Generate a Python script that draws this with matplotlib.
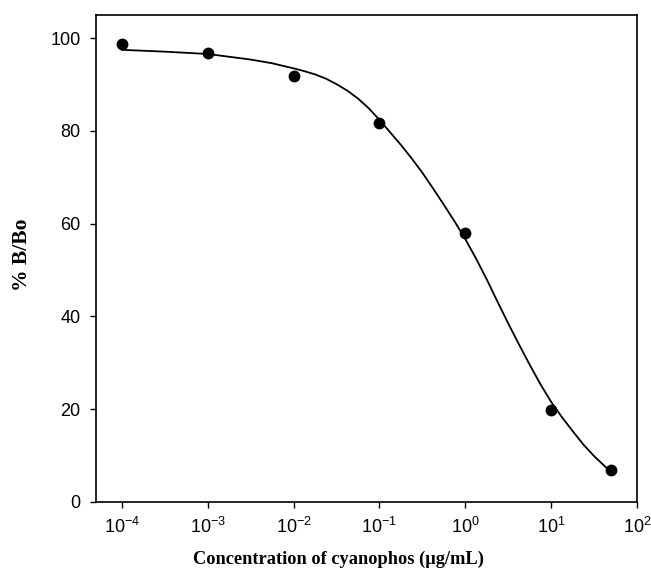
import matplotlib
matplotlib.use("Agg")
import matplotlib.pyplot as plt
import numpy as np
from matplotlib.ticker import NullLocator

plt.rcParams['font.family'] = 'Liberation Sans'
plt.rcParams['mathtext.fontset'] = 'custom'
plt.rcParams['mathtext.rm'] = 'Liberation Sans'
plt.rcParams['axes.unicode_minus'] = False

# measured points (concentration in ug/mL, % B/Bo)
conc = [1e-4, 1e-3, 1e-2, 1e-1, 1e0, 1e1, 50]
bbo = [98.8, 96.8, 91.8, 81.7, 57.9, 19.9, 6.8]

# fitted curve (log10 of concentration, % B/Bo)
curve_logc = [-4.0, -3.5, -3.0, -2.5, -2.25, -2.0, -1.875, -1.75, -1.625,
              -1.5, -1.375, -1.25, -1.125, -1.0, -0.875, -0.75, -0.625,
              -0.5, -0.375, -0.25, -0.125, 0.0, 0.125, 0.25, 0.375, 0.5,
              0.625, 0.75, 0.875, 1.0, 1.125, 1.25, 1.375, 1.5, 1.625, 1.69]
curve_bbo = [97.5, 97.1, 96.6, 95.4, 94.6, 93.5, 92.9, 92.2, 91.3,
             90.1, 88.7, 87.0, 84.9, 82.4, 79.7, 77.0, 74.1,
             71.0, 67.6, 64.1, 60.5, 56.7, 52.5, 48.0, 43.2, 38.5,
             34.0, 29.6, 25.4, 21.6, 18.3, 15.3, 12.4, 9.9, 7.7, 6.7]

x_ticks = [1e-4, 1e-3, 1e-2, 1e-1, 1e0, 1e1, 1e2]
y_ticks = [0, 20, 40, 60, 80, 100]

fig = plt.figure(figsize=(6.51, 5.78), dpi=100)
ax = fig.add_axes([0.1475, 0.1315, 0.831, 0.8425])

ax.plot(np.power(10.0, curve_logc), curve_bbo, color='black', lw=1.3, zorder=2)
ax.plot(conc, bbo, 'o', color='black', ms=7.5, zorder=3)

ax.set_xscale('log')
ax.set_xlim(5e-5, 1e2)
ax.set_ylim(0, 105)
ax.set_xticks(x_ticks)
ax.set_yticks(y_ticks)
ax.xaxis.set_minor_locator(NullLocator())

for s in ax.spines.values():
    s.set_linewidth(1.2)

ax.tick_params(direction='out', length=4, width=1, pad=7, labelsize=13)

ax.set_xlabel('Concentration of cyanophos (\u00b5g/mL)', fontfamily='Liberation Serif',
              fontweight='bold', fontsize=13.2)
ax.xaxis.set_label_coords(0.449, -0.101)
ax.set_ylabel('% B/Bo', fontfamily='Liberation Serif', fontweight='bold',
              fontsize=15.5)
ax.yaxis.set_label_coords(-0.118, 0.507)

fig.savefig('out.png', dpi=100)
